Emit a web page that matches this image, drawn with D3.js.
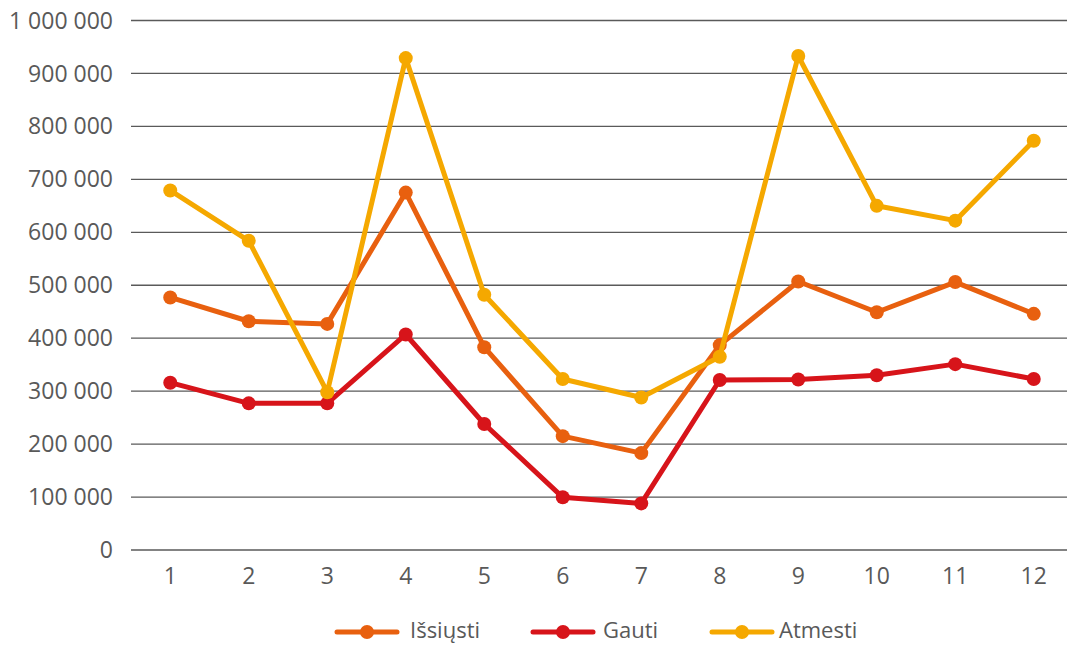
<!DOCTYPE html>
<html><head><meta charset="utf-8">
<script src="https://cdn.jsdelivr.net/npm/d3@7"></script>
<style>body{margin:0;background:#fff}text{font-family:"Open Sans",sans-serif;fill:#595959}</style>
</head><body>
<svg id="c" width="1067" height="645"></svg>
<script>
const categories = ["1","2","3","4","5","6","7","8","9","10","11","12"];
const issiusti = [477000,432000,427000,675000,383000,215000,183000,387000,507000,449000,506000,446000];
const gauti = [316000,277000,277000,407000,238000,99500,88000,321000,322000,330000,351000,323000];
const atmesti = [679000,584000,298000,929000,482000,323000,288000,365000,933000,650000,622000,773000];
const seriesNames = ["Išsiųsti","Gauti","Atmesti"];
const yTicks = [0,100000,200000,300000,400000,500000,600000,700000,800000,900000,1000000];

const colors = ["#E8600F","#D7141A","#F5A800"];
const series = [issiusti, gauti, atmesti];

const svg = d3.select("#c");
const x = d3.scaleBand().domain(categories).range([131, 1073]);
const y = d3.scaleLinear().domain([0,1000000]).range([550, 20.5]);
const loc = d3.formatLocale({decimal:",", thousands:"\u00a0", grouping:[3], currency:["","€"]});
const fmt = loc.format(",d");

// grid
svg.append("g").selectAll("line").data(yTicks).join("line")
  .attr("x1",131).attr("x2",1073)
  .attr("y1",d=>y(d)).attr("y2",d=>y(d))
  .attr("stroke","#5a5a5a").attr("stroke-width",1.3);

// y labels
svg.append("g").selectAll("text").data(yTicks).join("text")
  .attr("x",113).attr("y",d=>y(d)).attr("dy","0.35em")
  .attr("text-anchor","end").attr("font-size",23).text(d=>fmt(d));

// x labels
svg.append("g").selectAll("text").data(categories).join("text")
  .attr("x",d=>x(d)+x.bandwidth()/2).attr("y",576).attr("dy","0.35em")
  .attr("text-anchor","middle").attr("font-size",23).text(d=>d);

const line = d3.line().x((d,i)=>x(categories[i])+x.bandwidth()/2).y(d=>y(d));
series.forEach((s,k)=>{
  const g = svg.append("g");
  g.append("path").attr("d",line(s)).attr("fill","none")
    .attr("stroke",colors[k]).attr("stroke-width",5).attr("stroke-linejoin","round");
  g.selectAll("circle").data(s).join("circle")
    .attr("cx",(d,i)=>x(categories[i])+x.bandwidth()/2).attr("cy",d=>y(d))
    .attr("r",7).attr("fill",colors[k]);
});

// legend
const legX = [337, 533, 712];
const legTx = [410, 603, 779];
const legY = 632;
seriesNames.forEach((n,k)=>{
  const g = svg.append("g");
  g.append("line").attr("x1",legX[k]).attr("x2",legX[k]+60).attr("y1",legY).attr("y2",legY)
    .attr("stroke",colors[k]).attr("stroke-width",5).attr("stroke-linecap","round");
  g.append("circle").attr("cx",legX[k]+30).attr("cy",legY).attr("r",7).attr("fill",colors[k]);
  g.append("text").attr("x",legTx[k]).attr("y",638)
    .attr("font-size",22).text(n);
});
</script>
</body></html>
